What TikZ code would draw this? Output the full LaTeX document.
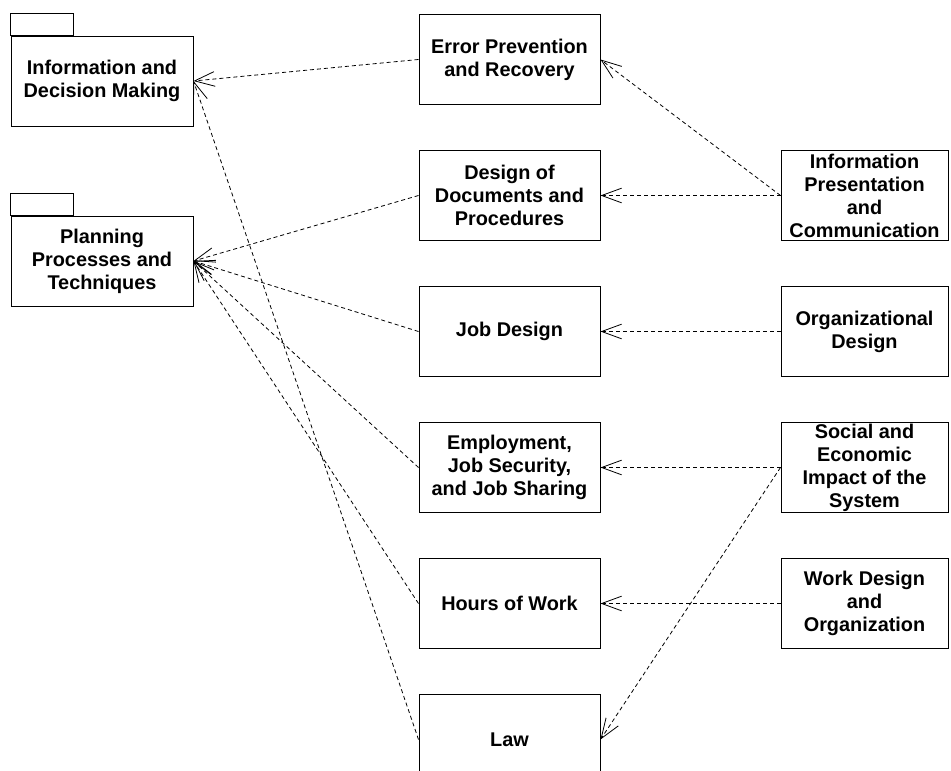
\documentclass[tikz,border=0pt]{standalone}
\usepackage{fontspec}
\setmainfont{Liberation Sans}
\usetikzlibrary{arrows.meta, positioning}

\begin{document}
\begin{tikzpicture}[
        x=0.75pt, y=-0.75pt,
        node distance=33.75pt,
        box/.style={rectangle, draw=black, line width=0.75pt, minimum width=135.75pt, minimum height=67.5pt, inner ysep=0pt, align=center, font=\fontsize{14.9pt}{17.25pt}\selectfont\bfseries},
        side/.style={box, minimum width=125.25pt},
        pkg/.style={box, minimum width=136.5pt},
        tab/.style={draw=black, line width=0.75pt},
        arrow/.style={-{Straight Barb[length=15pt, width=11pt]}, line width=0.6pt, dash pattern=on 3pt off 2.25pt},
    ]
        \useasboundingbox (0,0) rectangle (951,771);

        \node[pkg] (idm) at (102,81) {Information and\\ Decision Making};
        \node[pkg] (ppt) at (102,261) {Planning\\ Processes and\\ Techniques};
        \draw[tab] (idm.north west) rectangle ++(63,-22);
        \draw[tab] (ppt.north west) rectangle ++(63,-22);

        \node[box] (err) at (509.5,59.5) {Error Prevention\\ and Recovery};
        \node[box, below=of err] (docs) {Design of\\ Documents and\\ Procedures};
        \node[box, below=of docs] (job) {Job Design};
        \node[box, below=of job] (employ) {Employment,\\ Job Security,\\ and Job Sharing};
        \node[box, below=of employ] (hours) {Hours of Work};
        \node[box, below=of hours] (law) {Law};

        \node[side, right=135pt of docs] (infopres) {Information\\ Presentation\\ and\\ Communication};
        \node[side, right=135pt of job] (orgdesign) {Organizational\\ Design};
        \node[side, right=135pt of employ] (social) {Social and\\ Economic\\ Impact of the\\ System};
        \node[side, right=135pt of hours] (workdesign) {Work Design\\ and\\ Organization};

        \draw[arrow] (err.west) -- (idm.east);
        \draw[arrow] (law.west) -- (idm.east);
        \draw[arrow] (docs.west) -- (ppt.east);
        \draw[arrow] (job.west) -- (ppt.east);
        \draw[arrow] (employ.west) -- (ppt.east);
        \draw[arrow] (hours.west) -- (ppt.east);
        \draw[arrow] (infopres.west) -- (err.east);
        \draw[arrow] (infopres.west) -- (docs.east);
        \draw[arrow] (orgdesign.west) -- (job.east);
        \draw[arrow] (social.west) -- (employ.east);
        \draw[arrow] (social.west) -- (law.east);
        \draw[arrow] (workdesign.west) -- (hours.east);
    \end{tikzpicture}
\end{document}
